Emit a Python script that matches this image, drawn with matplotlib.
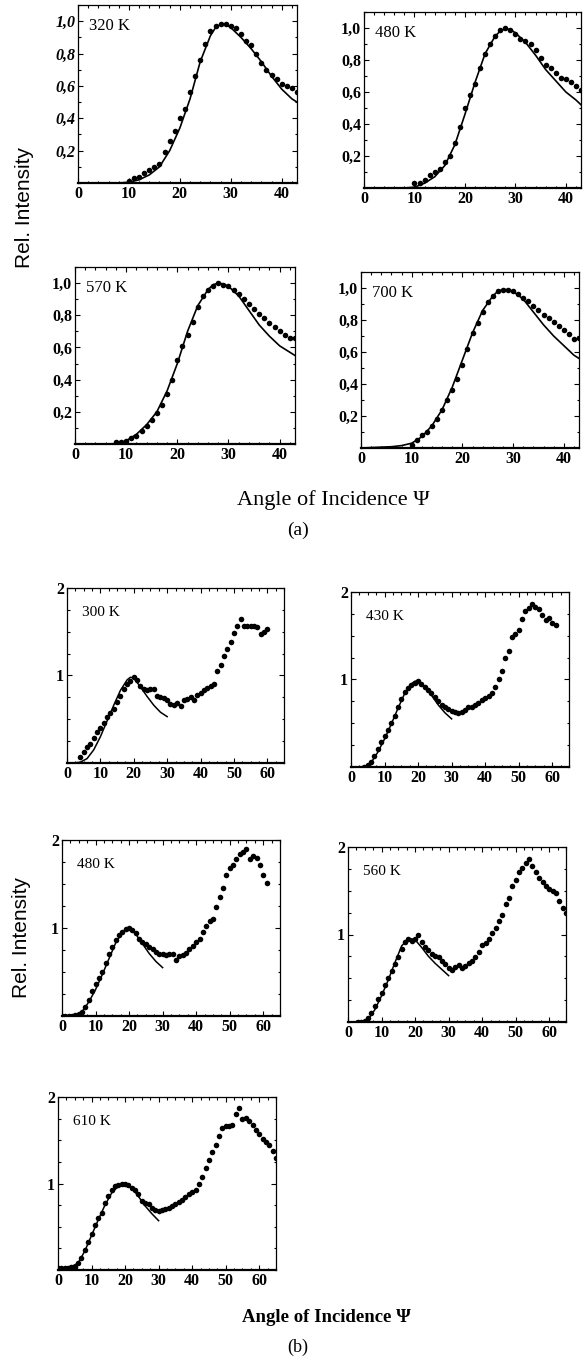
import matplotlib.pyplot as plt
from matplotlib.ticker import MultipleLocator, FixedLocator, FuncFormatter

plt.rcParams['font.family'] = 'Liberation Serif'

W, H = 584, 1364

# ---------- panel (a): measured points ----------
a320_x = list(range(10, 44))
a320_y = [0.01, 0.03, 0.04, 0.06, 0.08, 0.10, 0.12, 0.19, 0.26, 0.32, 0.40, 0.46, 0.56, 0.66, 0.76, 0.86, 0.94,
          0.97, 0.98, 0.98, 0.97, 0.96, 0.92, 0.88, 0.85, 0.80, 0.74, 0.70, 0.67, 0.64, 0.61, 0.60, 0.59, 0.56]
a480_x = list(range(10, 44))
a480_y = [0.03, 0.03, 0.05, 0.08, 0.10, 0.12, 0.16, 0.20, 0.28, 0.38, 0.50, 0.58, 0.65, 0.75, 0.84, 0.90, 0.95,
          0.99, 1.00, 0.99, 0.96, 0.93, 0.92, 0.90, 0.86, 0.81, 0.77, 0.75, 0.72, 0.69, 0.68, 0.66, 0.64, 0.61]
a570_x = list(range(8, 44))
a570_y = [0.01, 0.01, 0.02, 0.04, 0.05, 0.08, 0.11, 0.15, 0.19, 0.24, 0.31, 0.40, 0.52, 0.61, 0.68, 0.76, 0.85, 0.92,
          0.96, 0.98, 1.00, 0.99, 0.98, 0.96, 0.93, 0.90, 0.87, 0.84, 0.81, 0.78, 0.75, 0.73, 0.70, 0.68, 0.66, 0.66]
a700_x = list(range(10, 44))
a700_y = [0.02, 0.05, 0.08, 0.10, 0.14, 0.18, 0.24, 0.30, 0.36, 0.43, 0.52, 0.62, 0.72, 0.78, 0.85, 0.91, 0.95,
          0.98, 0.99, 0.99, 0.98, 0.96, 0.94, 0.92, 0.89, 0.86, 0.83, 0.81, 0.79, 0.76, 0.74, 0.71, 0.68, 0.69]

# ---------- panel (a): calculated curves ----------
afit_x = [0, 6, 8, 10, 12, 14, 16, 18, 20, 22, 24, 26, 27, 28, 29, 30, 32, 34, 36, 38, 40, 42, 43]
a320_fit = [0, 0, 0, 0.005, 0.02, 0.05, 0.10, 0.20, 0.34, 0.52, 0.75, 0.91, 0.96, 0.98, 0.98, 0.96,
            0.90, 0.83, 0.75, 0.66, 0.58, 0.52, 0.50]
a480_fit = [0, 0, 0, 0.005, 0.03, 0.07, 0.14, 0.27, 0.46, 0.66, 0.84, 0.95, 0.98, 0.995, 0.99, 0.97,
            0.91, 0.83, 0.74, 0.67, 0.60, 0.55, 0.52]
a570_fit = [0, 0, 0.002, 0.02, 0.06, 0.12, 0.20, 0.33, 0.50, 0.70, 0.86, 0.96, 0.99, 1.00, 0.995, 0.98,
            0.92, 0.83, 0.74, 0.67, 0.61, 0.57, 0.55]
a700_fit = [0, 0.008, 0.015, 0.03, 0.07, 0.14, 0.24, 0.38, 0.55, 0.72, 0.86, 0.95, 0.98, 0.99, 0.99, 0.98,
            0.93, 0.85, 0.77, 0.70, 0.64, 0.58, 0.56]

# ---------- panel (b): measured points ----------
b300_x = list(range(4, 61))
b300_y = [0.07, 0.12, 0.18, 0.22, 0.28, 0.35, 0.40, 0.46, 0.52, 0.57, 0.62, 0.70, 0.76, 0.84, 0.90, 0.94, 0.98,
          0.95, 0.88, 0.84, 0.83, 0.84, 0.85, 0.77, 0.75, 0.74, 0.72, 0.67, 0.66, 0.68, 0.65, 0.72, 0.73, 0.75,
          0.72, 0.78, 0.80, 0.83, 0.86, 0.88, 0.90, 1.05, 1.12, 1.22, 1.30, 1.38, 1.48, 1.56, 1.65, 1.57, 1.56,
          1.57, 1.56, 1.55, 1.47, 1.50, 1.53]
b430_x = list(range(4, 62))
b430_y = [0.0, 0.02, 0.06, 0.12, 0.20, 0.28, 0.35, 0.42, 0.50, 0.58, 0.68, 0.78, 0.86, 0.90, 0.94, 0.96, 0.98,
          0.95, 0.91, 0.88, 0.85, 0.80, 0.75, 0.71, 0.68, 0.66, 0.64, 0.63, 0.62, 0.63, 0.65, 0.68, 0.69, 0.71,
          0.73, 0.76, 0.79, 0.81, 0.84, 0.91, 1.00, 1.10, 1.25, 1.32, 1.48, 1.52, 1.57, 1.69, 1.78, 1.82, 1.86,
          1.83, 1.80, 1.74, 1.68, 1.70, 1.64, 1.62]
b480_x = list(range(0, 62))
b480_y = [0.0, 0.0, 0.0, 0.005, 0.01, 0.02, 0.05, 0.10, 0.18, 0.28, 0.36, 0.43, 0.50, 0.60, 0.70, 0.78, 0.86,
          0.92, 0.96, 0.99, 1.00, 0.98, 0.94, 0.88, 0.84, 0.82, 0.78, 0.76, 0.73, 0.71, 0.70, 0.69, 0.70, 0.70,
          0.64, 0.68, 0.69, 0.72, 0.76, 0.80, 0.84, 0.88, 0.95, 1.02, 1.08, 1.10, 1.24, 1.35, 1.45, 1.60, 1.68,
          1.72, 1.78, 1.84, 1.86, 1.90, 1.78, 1.82, 1.80, 1.72, 1.60, 1.51]
b560_x = list(range(3, 66))
b560_y = [0.0, 0.0, 0.01, 0.05, 0.10, 0.18, 0.26, 0.33, 0.42, 0.50, 0.58, 0.66, 0.74, 0.84, 0.92, 0.95, 0.93,
          0.95, 1.00, 0.92, 0.86, 0.82, 0.78, 0.76, 0.74, 0.70, 0.66, 0.62, 0.60, 0.63, 0.65, 0.62, 0.64, 0.68,
          0.70, 0.74, 0.80, 0.88, 0.90, 0.95, 1.02, 1.08, 1.15, 1.22, 1.35, 1.42, 1.55, 1.62, 1.72, 1.76, 1.82,
          1.86, 1.78, 1.72, 1.65, 1.60, 1.55, 1.52, 1.50, 1.48, 1.38, 1.30, 1.25]
b610_x = list(range(0, 66))
b610_y = [0.02, 0.02, 0.02, 0.02, 0.03, 0.04, 0.08, 0.14, 0.23, 0.32, 0.42, 0.52, 0.60, 0.66, 0.78, 0.85, 0.92,
          0.97, 0.98, 0.99, 1.00, 0.98, 0.95, 0.92, 0.88, 0.80, 0.78, 0.76, 0.72, 0.69, 0.68, 0.69, 0.70, 0.72,
          0.74, 0.76, 0.79, 0.81, 0.84, 0.88, 0.90, 0.92, 1.00, 1.08, 1.18, 1.27, 1.36, 1.44, 1.55, 1.64, 1.66,
          1.67, 1.68, 1.80, 1.87, 1.74, 1.76, 1.72, 1.68, 1.62, 1.57, 1.52, 1.48, 1.45, 1.38, 1.30]

# ---------- panel (b): calculated curves ----------
bfit_x = [0, 2, 4, 6, 8, 10, 12, 14, 16, 18, 19, 20, 22, 24, 26, 28, 30]
b300_fit = [0, 0, 0.01, 0.05, 0.15, 0.30, 0.48, 0.66, 0.83, 0.95, 0.98, 0.97, 0.87, 0.76, 0.66, 0.58, 0.53]
b430_fit = [0, 0, 0.005, 0.05, 0.17, 0.32, 0.49, 0.67, 0.84, 0.95, 0.98, 0.98, 0.92, 0.82, 0.71, 0.62, 0.55]
b480_fit = [0, 0, 0.01, 0.05, 0.16, 0.30, 0.47, 0.65, 0.83, 0.95, 0.99, 1.00, 0.93, 0.82, 0.71, 0.62, 0.55]
b560_fit = [0, 0, 0.0, 0.03, 0.14, 0.30, 0.48, 0.68, 0.87, 0.95, 0.95, 0.94, 0.85, 0.75, 0.67, 0.60, 0.53]
b610_fit = [0.02, 0.03, 0.04, 0.08, 0.22, 0.40, 0.58, 0.75, 0.89, 0.97, 0.99, 1.00, 0.95, 0.85, 0.74, 0.65, 0.57]


def rect(x0, y0, x1, y1):
    # pixel box (top-left origin) -> figure fraction
    return [x0 / W, 1 - y1 / H, (x1 - x0) / W, (y1 - y0) / H]


def comma(v, pos):
    return f'{v:.1f}'.replace('.', ',')


fig = plt.figure(figsize=(W / 100, H / 100), dpi=100)

a_panels = [
    ('320 K', (78, 5, 297, 183), a320_x, a320_y, a320_fit),
    ('480 K', (364, 12, 581, 188), a480_x, a480_y, a480_fit),
    ('570 K', (75, 267, 295, 444), a570_x, a570_y, a570_fit),
    ('700 K', (361, 272, 579, 448), a700_x, a700_y, a700_fit),
]
b_panels = [
    ('300 K', (67, 588, 284, 763), b300_x, b300_y, b300_fit),
    ('430 K', (351, 592, 569, 767), b430_x, b430_y, b430_fit),
    ('480 K', (62, 840, 280, 1016), b480_x, b480_y, b480_fit),
    ('560 K', (348, 847, 566, 1022), b560_x, b560_y, b560_fit),
    ('610 K', (58, 1097, 276, 1270), b610_x, b610_y, b610_fit),
]


def style(ax):
    ax.tick_params(which='both', direction='in', top=True, right=True, width=0.8, pad=2)
    ax.tick_params(which='major', length=3.5, labelsize=11.5)
    ax.tick_params(which='minor', length=1.8)
    for s in ax.spines.values():
        s.set_linewidth(0.9)
    ax.spines['bottom'].set_linewidth(1.6)
    for lab in ax.get_xticklabels() + ax.get_yticklabels():
        lab.set_fontweight('bold')


for i, (name, box, xs, ys, fit) in enumerate(a_panels):
    ax = fig.add_axes(rect(*box))
    ax.plot(afit_x, fit, color='black', lw=1.2)
    ax.plot(xs, ys, 'o', color='black', ms=4.0, mew=0)
    ax.set_xlim(0, 43)
    ax.set_ylim(0, 1.1)
    ax.xaxis.set_major_locator(FixedLocator([0, 10, 20, 30, 40]))
    ax.xaxis.set_minor_locator(MultipleLocator(2))
    ax.yaxis.set_major_locator(FixedLocator([0.2, 0.4, 0.6, 0.8, 1.0]))
    ax.yaxis.set_minor_locator(MultipleLocator(0.1))
    ax.yaxis.set_major_formatter(FuncFormatter(comma))
    style(ax)
    if i == 0:
        for lab in ax.get_yticklabels():
            lab.set_fontstyle('italic')
    ax.text(0.05, 0.88, name, transform=ax.transAxes, fontsize=12, va='center', ha='left')

for name, box, xs, ys, fit in b_panels:
    ax = fig.add_axes(rect(*box))
    ax.plot(bfit_x, fit, color='black', lw=1.1)
    ax.plot(xs, ys, 'o', color='black', ms=4.0, mew=0)
    ax.set_xlim(0, 65)
    ax.set_ylim(0, 2)
    ax.xaxis.set_major_locator(FixedLocator([0, 10, 20, 30, 40, 50, 60]))
    ax.xaxis.set_minor_locator(MultipleLocator(2.5))
    ax.yaxis.set_major_locator(FixedLocator([1, 2]))
    ax.yaxis.set_minor_locator(MultipleLocator(0.25))
    style(ax)
    ax.text(0.07, 0.86, name, transform=ax.transAxes, fontsize=11, va='center', ha='left')

# shared labels
fig.text(25 / W, 1 - 208 / H, 'Rel. Intensity', rotation=90, ha='center', va='center',
         fontsize=15, family='Liberation Sans')
fig.text(22 / W, 1 - 938 / H, 'Rel. Intensity', rotation=90, ha='center', va='center',
         fontsize=15, family='Liberation Sans')
fig.text(333 / W, 1 - 500 / H, 'Angle of Incidence \u03a8', ha='center', va='center', fontsize=16)
fig.text(298 / W, 1 - 530 / H, '(a)', ha='center', va='center', fontsize=14)
fig.text(326 / W, 1 - 1317 / H, 'Angle of Incidence \u03a8', ha='center', va='center',
         fontsize=13.5, fontweight='bold')
fig.text(298 / W, 1 - 1347 / H, '(b)', ha='center', va='center', fontsize=13)

fig.savefig('out.png', dpi=100)
